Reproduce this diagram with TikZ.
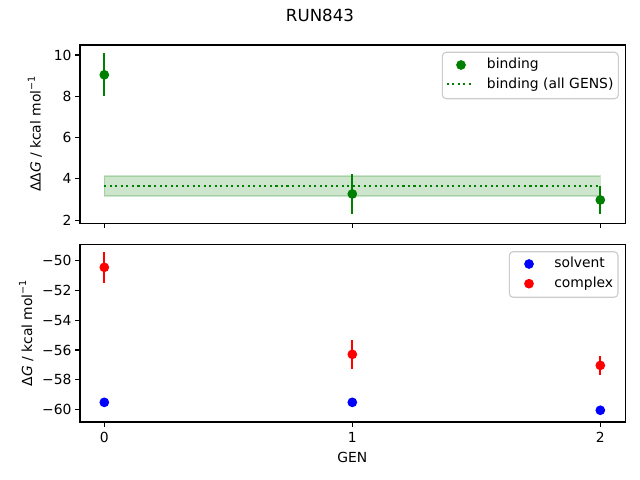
\documentclass[tikz,border=0pt]{standalone}
\usepackage{fontspec}
\setmainfont{DejaVu Sans}
\definecolor{mplgreen}{RGB}{0,128,0}
\definecolor{mplblue}{RGB}{0,0,255}
\definecolor{mplred}{RGB}{255,0,0}
\definecolor{legedge}{gray}{0.8}
\newcommand{\supm}{\raisebox{0.42em}{\fontsize{7}{7}\selectfont −1}}
\tikzset{
  frame/.style={draw=black, line width=0.8bp},
  tickmark/.style={draw=black, line width=0.8bp},
  ticklab/.style={inner sep=0pt, font=\fontsize{10bp}{12bp}\selectfont},
  ebar/.style={line width=1.5bp},
  dot/.style={radius=3.5bp},
  legbox/.style={draw=legedge, line width=0.8bp, fill=white, fill opacity=0.8, rounded corners=2.8bp},
  mean line/.style={mplgreen, line width=1.5bp, dash pattern=on 1.5bp off 2.475bp},
}
\begin{document}
\begin{tikzpicture}[x=0.72bp, y=-0.72bp]
\fill[white] (0,0) rectangle (640,480);
\useasboundingbox (0,0) rectangle (640,480);

% ---------------- title
\node[ticklab, font=\fontsize{12bp}{14bp}\selectfont, anchor=base] (title) at (320,21.5) {RUN843};

% ---------------- top axes data
\begin{scope}[shift={(104.3,261.5)}, x=178.56bp, y=14.868bp]
  \fill[mplgreen, opacity=0.2] (0,3.17) rectangle (2,4.14);
  \draw[mplgreen, opacity=0.2, line width=1bp] (0,3.17) rectangle (2,4.14);
  \draw[mean line] (0,3.66) -- (2,3.66);
  \foreach \gx/\gy/\ge in {0/9.04/1.04, 1/3.27/0.97, 2/2.98/0.67}{
    \draw[ebar, mplgreen] (\gx,\gy-\ge) -- (\gx,\gy+\ge);
    \fill[mplgreen] (\gx,\gy) circle[dot];
  }
\end{scope}

% ---------------- bottom axes data
\begin{scope}[shift={(104.3,-487.2)}, x=178.56bp, y=10.764bp]
  \foreach \gx/\gy in {0/-59.5, 1/-59.5, 2/-60.03}{
    \fill[mplblue] (\gx,\gy) circle[dot];
  }
  \foreach \gx/\gy/\ge in {0/-50.47/1.03, 1/-56.29/0.96, 2/-57.03/0.63}{
    \draw[ebar, mplred] (\gx,\gy-\ge) -- (\gx,\gy+\ge);
    \fill[mplred] (\gx,\gy) circle[dot];
  }
\end{scope}

% ---------------- frames
\draw[frame] (80,45) rectangle (625.3,223.3);
\draw[frame] (80,244.5) rectangle (625.3,422);

% x ticks
\foreach \px in {104.3, 352.3, 600.3}{
  \draw[tickmark] (\px,223.3) -- (\px,228.2);
  \draw[tickmark] (\px,422) -- (\px,426.9);
}
\node[ticklab, anchor=base] (xt0) at (104.3,442.3) {0};
\node[ticklab, anchor=base] (xt1) at (352.3,442.3) {1};
\node[ticklab, anchor=base] (xt2) at (600.3,442.3) {2};
\node[ticklab, anchor=base] (xlab) at (352.3,462.3) {GEN};

% top y ticks
\foreach \py/\lab in {55/10, 96.3/8, 137.6/6, 178.9/4, 220.2/2}{
  \draw[tickmark] (80,\py) -- (75.1,\py);
  \node[ticklab, anchor=east] at (71.8,\py) {\lab};
}
% bottom y ticks
\foreach \py/\lab in {260.3/−50, 290.2/−52, 320.1/−54, 350/−56, 379.9/−58, 409.8/−60}{
  \draw[tickmark] (80,\py) -- (75.1,\py);
  \node[ticklab, anchor=east] at (71.8,\py) {\lab};
}

% y labels
\node[ticklab, rotate=90, anchor=base] (ylabtop) at (40.7,134) {ΔΔ\textit{G} / kcal mol\supm};
\node[ticklab, rotate=90, anchor=base] (ylabbot) at (32,333.2) {Δ\textit{G} / kcal mol\supm};

% ---------------- legends
\draw[legbox] (442.3,52.3) rectangle (618.3,98.7);
\fill[mplgreen] (461,65) circle[dot];
\coordinate (ml0) at (446.7,84);
\coordinate (ml1) at (474.3,84);
\draw[mean line] (ml0) -- (ml1);
\node[ticklab, anchor=base west] (lb1) at (486.7,68.8) {binding};
\node[ticklab, anchor=base west] (lb2) at (486.7,88.4) {binding (all GENS)};

\draw[legbox] (509.3,251.7) rectangle (618,297.3);
\fill[mplblue] (529,264) circle[dot];
\fill[mplred] (529,283.7) circle[dot];
\node[ticklab, anchor=base west] (ls1) at (554,267.7) {solvent};
\node[ticklab, anchor=base west] (ls2) at (554,287.4) {complex};
\end{tikzpicture}
\end{document}
